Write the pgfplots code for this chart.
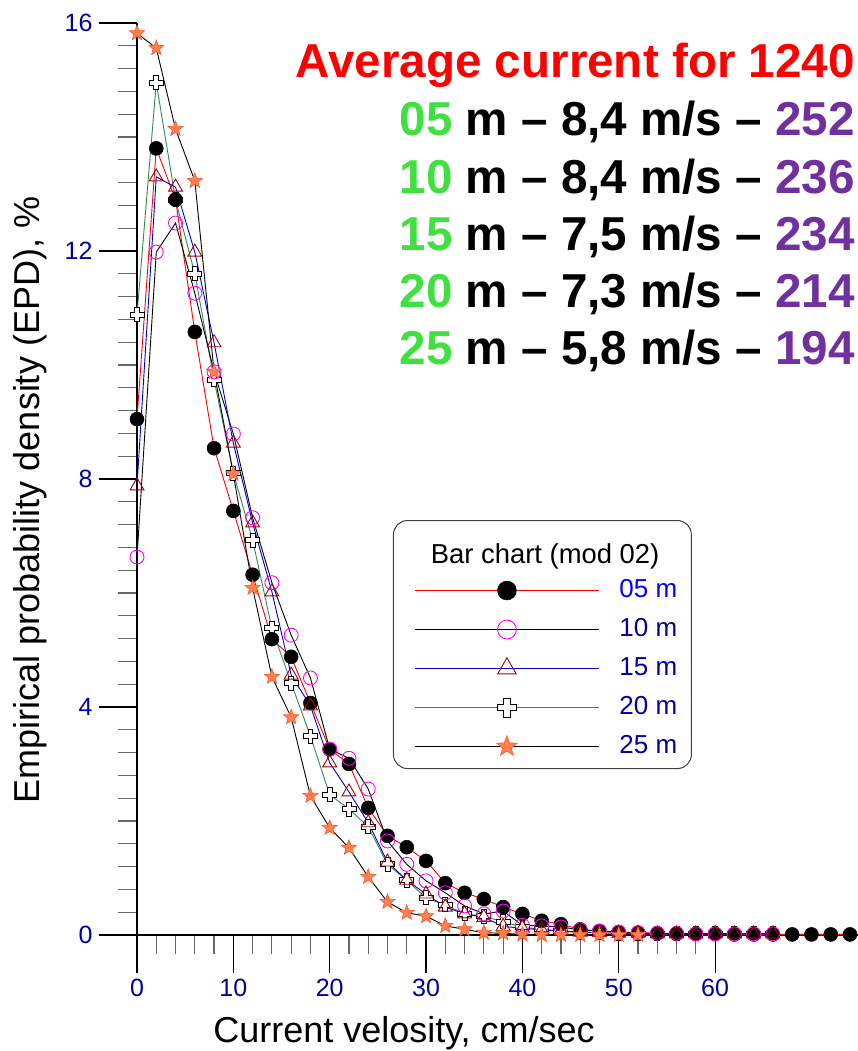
\documentclass[border=0pt]{standalone}
\usepackage{pgfplots}
\pgfplotsset{compat=1.18}
\usepackage{fontspec}
\setmainfont{Liberation Sans}
\definecolor{tickblue}{HTML}{0000A0}
\definecolor{legblue}{HTML}{0000FF}
\definecolor{tgreen}{HTML}{40E040}
\definecolor{tpurple}{HTML}{7030A0}
\definecolor{darkred}{HTML}{AA0000}
\definecolor{seagreen}{HTML}{2E8B57}
\definecolor{coral}{HTML}{FF7F50}
\definecolor{coralD}{HTML}{FF5A28}
\definecolor{mag}{HTML}{FF00FF}
\definecolor{lblue}{HTML}{0000CC}

\pgfdeclareplotmark{ocross}{%
  \pgfpathmoveto{\pgfqpoint{0.35\pgfplotmarksize}{\pgfplotmarksize}}%
  \pgfpathlineto{\pgfqpoint{0.35\pgfplotmarksize}{0.35\pgfplotmarksize}}%
  \pgfpathlineto{\pgfqpoint{\pgfplotmarksize}{0.35\pgfplotmarksize}}%
  \pgfpathlineto{\pgfqpoint{\pgfplotmarksize}{-0.35\pgfplotmarksize}}%
  \pgfpathlineto{\pgfqpoint{0.35\pgfplotmarksize}{-0.35\pgfplotmarksize}}%
  \pgfpathlineto{\pgfqpoint{0.35\pgfplotmarksize}{-\pgfplotmarksize}}%
  \pgfpathlineto{\pgfqpoint{-0.35\pgfplotmarksize}{-\pgfplotmarksize}}%
  \pgfpathlineto{\pgfqpoint{-0.35\pgfplotmarksize}{-0.35\pgfplotmarksize}}%
  \pgfpathlineto{\pgfqpoint{-\pgfplotmarksize}{-0.35\pgfplotmarksize}}%
  \pgfpathlineto{\pgfqpoint{-\pgfplotmarksize}{0.35\pgfplotmarksize}}%
  \pgfpathlineto{\pgfqpoint{-0.35\pgfplotmarksize}{0.35\pgfplotmarksize}}%
  \pgfpathlineto{\pgfqpoint{-0.35\pgfplotmarksize}{\pgfplotmarksize}}%
  \pgfpathclose
  \pgfusepathqfillstroke
}
\pgfdeclareplotmark{fstar}{%
  \pgfpathmoveto{\pgfpointpolar{90}{\pgfplotmarksize}}%
  \pgfpathlineto{\pgfpointpolar{126}{0.42\pgfplotmarksize}}%
  \pgfpathlineto{\pgfpointpolar{162}{\pgfplotmarksize}}%
  \pgfpathlineto{\pgfpointpolar{198}{0.42\pgfplotmarksize}}%
  \pgfpathlineto{\pgfpointpolar{234}{\pgfplotmarksize}}%
  \pgfpathlineto{\pgfpointpolar{270}{0.42\pgfplotmarksize}}%
  \pgfpathlineto{\pgfpointpolar{306}{\pgfplotmarksize}}%
  \pgfpathlineto{\pgfpointpolar{342}{0.42\pgfplotmarksize}}%
  \pgfpathlineto{\pgfpointpolar{18}{\pgfplotmarksize}}%
  \pgfpathlineto{\pgfpointpolar{54}{0.42\pgfplotmarksize}}%
  \pgfpathclose
  \pgfusepathqfillstroke
}

\pgfplotsset{
  s05/.style={color=red, line width=0.9pt, mark=*, mark size=7pt, mark options={fill=black, draw=black, line width=0.5pt}},
  s10/.style={color=black, line width=0.9pt, mark=o, mark size=7pt, mark options={draw=mag, line width=0.9pt}},
  s15/.style={color=lblue, line width=0.9pt, mark=triangle, mark size=8pt, mark options={draw=darkred, line width=0.9pt}},
  s20/.style={color=seagreen, line width=0.9pt, mark=ocross, mark size=7pt, mark options={draw=black, fill=white, line width=0.9pt}},
  s25/.style={color=black, line width=0.9pt, mark=fstar, mark size=8pt, mark options={draw=coralD, fill=coral, line width=0.6pt}},
}

\pgfplotstableread{
x y
0 9.05
2 13.8
4 12.9
6 10.58
8 8.54
10 7.44
12 6.32
14 5.19
16 4.88
18 4.07
20 3.26
22 3.0
24 2.23
26 1.74
28 1.54
30 1.30
32 0.91
34 0.74
36 0.63
38 0.49
40 0.37
42 0.25
44 0.19
46 0.10
48 0.07
50 0.05
52 0.04
54 0.03
56 0.02
58 0.02
60 0.02
62 0.01
64 0.01
66 0.01
68 0.01
70 0.01
72 0.01
74 0.01
}\tA
\pgfplotstableread{
x y
0 6.63
2 11.98
4 12.49
6 11.26
8 9.88
10 8.79
12 7.32
14 6.18
16 5.26
18 4.51
20 3.26
22 3.10
24 2.56
26 1.65
28 1.24
30 0.95
32 0.74
34 0.51
36 0.37
38 0.42
40 0.17
42 0.16
44 0.14
46 0.09
48 0.07
50 0.05
52 0.04
54 0.03
56 0.03
58 0.02
60 0.02
62 0.02
64 0.02
66 0.02
}\tB
\pgfplotstableread{
x y
0 7.88
2 13.30
4 13.12
6 11.98
8 10.39
10 8.63
12 7.23
14 6.02
16 4.56
18 4.02
20 3.02
22 2.51
24 1.97
26 1.28
28 0.96
30 0.72
32 0.49
34 0.37
36 0.31
38 0.15
40 0.12
42 0.09
44 0.07
46 0.05
48 0.04
50 0.03
52 0.03
54 0.02
56 0.02
58 0.02
60 0.02
62 0.02
64 0.02
66 0.02
}\tC
\pgfplotstableread{
x y
0 10.88
2 14.95
4 12.90
6 11.60
8 9.74
10 8.10
12 6.93
14 5.38
16 4.42
18 3.49
20 2.46
22 2.21
24 1.90
26 1.24
28 0.96
30 0.65
32 0.53
34 0.37
36 0.33
38 0.23
40 0.14
42 0.10
44 0.07
46 0.05
48 0.04
50 0.03
52 0.02
54 0.02
56 0.02
58 0.02
60 0.02
62 0.02
64 0.02
66 0.02
}\tD
\pgfplotstableread{
x y
0 15.82
2 15.56
4 14.14
6 13.23
8 9.88
10 8.09
12 6.09
14 4.53
16 3.82
18 2.44
20 1.88
22 1.53
24 1.02
26 0.58
28 0.39
30 0.33
32 0.16
34 0.10
36 0.04
38 0.03
40 0.01
42 0.00
44 0.00
46 0.00
48 0.00
50 0.00
52 0.00
}\tE

\newcommand{\legtxt}[2]{\makebox[51pt][l]{\textcolor{#1}{#2}}}

\begin{document}
\begin{tikzpicture}[x=1pt,y=1pt]
\useasboundingbox (0,0) rectangle (857,1051);
\begin{axis}[
  at={(137pt,116pt)}, anchor=south west,
  scale only axis, width=720.7pt, height=912pt,
  xmin=0, xmax=74.8, ymin=0, ymax=16,
  clip=false,
  axis x line=bottom, axis y line=left,
  axis line style={-, line width=1.3pt, black},
  tick align=outside,
  major tick length=38pt, minor tick length=19pt,
  every major tick/.append style={black, line width=1.2pt},
  every minor tick/.append style={black!60, line width=1.2pt},
  xtick={0,10,...,60}, minor xtick={2,4,...,58},
  ytick={0,4,...,16}, minor ytick={0,0.4,...,16},
  /pgf/number format/assume math mode=true,
  ticklabel style={font=\fontsize{25}{30}\selectfont, text=tickblue},
  xticklabel style={yshift=-3pt},
  yticklabel style={xshift=-3pt},
  xlabel={Current velosity, cm/sec},
  ylabel={Empirical probability density (EPD), \%},
  xlabel style={at={(axis description cs:0.3705,-0.118)}, anchor=base, font=\fontsize{36}{43}\selectfont},
  ylabel style={at={(axis description cs:-0.148,0.477)}, anchor=center, font=\fontsize{36}{43}\selectfont},
  legend image code/.code={\draw[mark repeat=2,mark phase=2,#1, /tikz/every mark/.append style={scale=1.35}] plot coordinates {(0pt,0pt) (92pt,0pt) (184pt,0pt)};\path (204pt,0pt);},
  legend style={at={(axis description cs:0.3552,0.455)}, anchor=north west,
    draw=black!75, line width=1pt, rounded corners=14pt, fill=white,
    font=\fontsize{26}{31}\selectfont,
    inner xsep=21pt, inner ysep=9pt,
    nodes={inner sep=0pt, text height=20pt, text depth=6pt},
    row sep=13pt,
    /tikz/row 1/.style={nodes={text height=34pt, text depth=1pt}}},
  legend cell align=left,
]
\addplot[s20, forget plot] table[x=x,y=y] {\tD};
\addplot[s05, forget plot] table[x=x,y=y] {\tA};
\addplot[s10, forget plot] table[x=x,y=y] {\tB};
\addplot[s15, forget plot] table[x=x,y=y] {\tC};
\addplot[s25, forget plot] table[x=x,y=y] {\tE};
\addlegendimage{empty legend}
\addlegendentry{\makebox[0pt][l]{\hspace*{-189pt}\fontsize{27.4}{33}\selectfont\textcolor{black}{Bar chart (mod 02)}}}
\addlegendimage{s05}\addlegendentry{\legtxt{legblue}{05 m}}
\addlegendimage{s10}\addlegendentry{\legtxt{tickblue}{10 m}}
\addlegendimage{s15}\addlegendentry{\legtxt{tickblue}{15 m}}
\addlegendimage{s20}\addlegendentry{\legtxt{tickblue}{20 m}}
\addlegendimage{s25}\addlegendentry{\legtxt{tickblue}{25 m}}
\end{axis}
\begin{scope}[every node/.style={anchor=base east, inner sep=0pt, font=\bfseries\fontsize{47.6}{57}\selectfont}]
\node[text=red] at (855,973) {Average current for 1240};
\node at (855,915) {\textcolor{tgreen}{05} m -- 8,4 m/s -- \textcolor{tpurple}{252}};
\node at (855,857) {\textcolor{tgreen}{10} m -- 8,4 m/s -- \textcolor{tpurple}{236}};
\node at (855,800) {\textcolor{tgreen}{15} m -- 7,5 m/s -- \textcolor{tpurple}{234}};
\node at (855,743) {\textcolor{tgreen}{20} m -- 7,3 m/s -- \textcolor{tpurple}{214}};
\node at (855,686) {\textcolor{tgreen}{25} m -- 5,8 m/s -- \textcolor{tpurple}{194}};
\end{scope}
\end{tikzpicture}
\end{document}
